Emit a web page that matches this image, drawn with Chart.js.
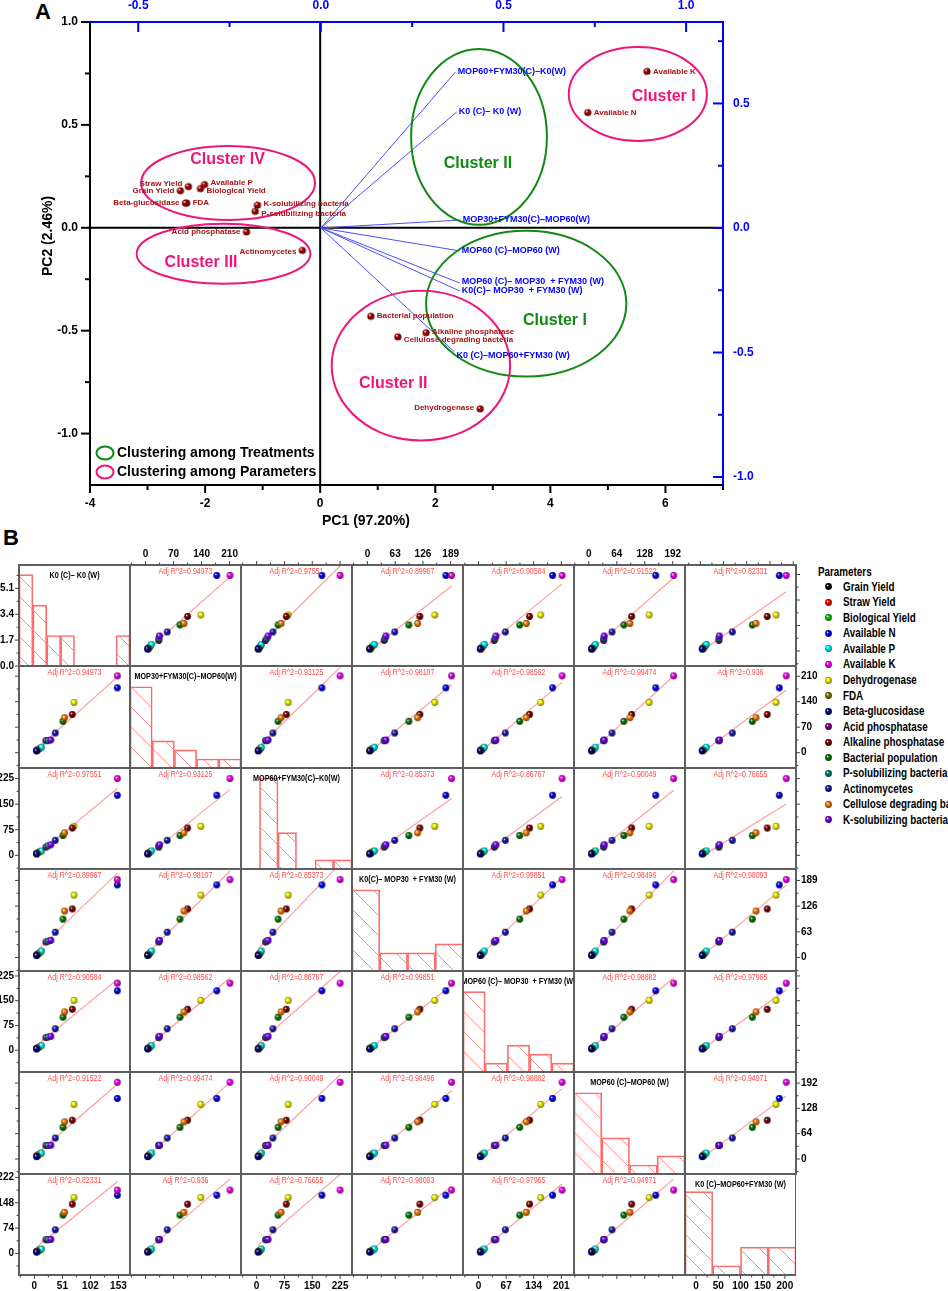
<!DOCTYPE html>
<html lang="en">
<head>
<meta charset="UTF-8">
<title>PCA biplot and scatter matrix</title>
<script src="https://cdn.jsdelivr.net/npm/chart.js@4.4.1/dist/chart.umd.min.js"></script>
<style>
  html, body { margin: 0; padding: 0; background: #fff; }
  body { position: relative; width: 948px; height: 1291px; overflow: hidden; }
  canvas { position: absolute; }
  .tag { position: absolute; font: bold 22px "Liberation Sans", Arial, sans-serif; line-height: 26px; }
  #legendB { position: absolute; left: 0; top: 0; font-family: "Liberation Sans", Arial, sans-serif;
             font-weight: bold; font-size: 12px; white-space: nowrap; }
  #legendB div { position: absolute; line-height: 14px; transform: scaleX(0.82); transform-origin: 0 50%; }
</style>
</head>
<body>
<div class="tag" style="left:35px;top:-1px">A</div>
<div class="tag" style="left:3px;top:525px">B</div>
<canvas id="biplot" width="948" height="540" style="left:0;top:0;width:948px;height:540px"></canvas>
<div id="legendB"></div>
<script>
// ---------- panel A : PCA biplot ----------
const paramNames = ['Grain Yield', 'Straw Yield', 'Biological Yield', 'Available N', 'Available P', 'Available K',
  'Dehydrogenase', 'FDA', 'Beta-glucosidase', 'Acid phosphatase', 'Alkaline phosphatase', 'Bacterial population',
  'P-solubilizing bacteria', 'Actinomycetes', 'Cellulose degrading bacteria', 'K-solubilizing bacteria'];
const pc1Scores = [-2.43, -2.29, -2.08, 4.65, -2.01, 5.68, 2.78, -2.32, -2.34, -1.28, 1.84, 0.88, -1.13, -0.31, 1.35, -1.09];
const pc2Scores = [0.18, 0.20, 0.19, 0.56, 0.21, 0.76, -0.88, 0.12, 0.12, -0.02, -0.51, -0.43, 0.08, -0.11, -0.53, 0.11];

const treatments = ['K0 (C)– K0 (W)', 'MOP30+FYM30(C)–MOP60(W)', 'MOP60+FYM30(C)–K0(W)', 'K0(C)– MOP30  + FYM30 (W)',
  'MOP60 (C)– MOP30  + FYM30 (W)', 'MOP60 (C)–MOP60 (W)', 'K0 (C)–MOP60+FYM30 (W)'];
const loadPC1 = [0.372, 0.383, 0.369, 0.380, 0.380, 0.380, 0.366];
const loadPC2 = [0.466, 0.032, 0.627, -0.253, -0.221, -0.092, -0.498];

// cluster ellipses, in PC1 / PC2 units
const clusterNames = ['Cluster II', 'Cluster I', 'Cluster I', 'Cluster IV', 'Cluster III', 'Cluster II'];
const clusterIsTreatment = [true, true, false, false, false, false];
const clusterPC1 = [2.76, 3.58, 5.52, -1.60, -1.68, 1.75];
const clusterPC2 = [0.442, -0.369, 0.650, 0.218, -0.126, -0.670];
const clusterHalfPC1 = [1.18, 1.74, 1.20, 1.51, 1.51, 1.55];
const clusterHalfPC2 = [0.427, 0.354, 0.228, 0.180, 0.146, 0.364];
const clusterTextPC1 = [2.74, 4.08, 5.97, -1.61, -2.07, 1.27];
const clusterTextPC2 = [0.311, -0.451, 0.636, 0.33, -0.17, -0.757];

const pc1Ticks = [-4, -2, 0, 2, 4, 6];
const pc2Ticks = [1.0, 0.5, 0.0, -0.5, -1.0];
const loadXTicks = [-0.5, 0.0, 0.5, 1.0];
const loadYTicks = [0.5, 0.0, -0.5, -1.0];

// ---------- panel B : scatter matrix (values per treatment, same order as treatments) ----------
const grainYield      = [4, 6, 5, 6, 5, 7, 5];
const strawYield      = [7, 9, 8, 9, 8, 10, 8];
const biologicalYield = [10, 12, 11, 12, 11, 13, 10];
const availableN      = [151, 178, 176, 178, 180, 153, 170];
const availableP      = [13, 15, 13, 16, 14, 15, 13];
const availableK      = [151, 211, 225, 191, 203, 194, 185];
const dehydrogenase   = [72, 138, 85, 153, 151, 138, 163];
const fda             = [5, 7, 6, 7, 6, 8, 6];
const betaGlucosidase = [4, 5, 4, 5, 4, 6, 4];
const acidPhosphatase = [21, 33, 24, 38, 38, 34, 40];
const alkalinePhos    = [69, 105, 80, 119, 124, 98, 144];
const bacterialPop    = [52, 86, 58, 94, 100, 80, 112];
const pSolubilizing   = [25, 33, 28, 40, 40, 34, 40];
const actinomycetes   = [38, 54, 44, 62, 65, 53, 69];
const celluloseDeg    = [55, 96, 66, 114, 116, 94, 120];
const kSolubilizing   = [30, 35, 31, 42, 42, 35, 41];
const paramValues = [grainYield, strawYield, biologicalYield, availableN, availableP, availableK, dehydrogenase, fda,
  betaGlucosidase, acidPhosphatase, alkalinePhos, bacterialPop, pSolubilizing, actinomycetes, celluloseDeg, kSolubilizing];
const paramColors = ['#000000', '#ff0000', '#00d000', '#0000ff', '#00ffff', '#ff00ff', '#ffff00', '#808000',
  '#000080', '#800080', '#800000', '#008000', '#008080', '#1a1ab8', '#ff8000', '#8000ff'];

const adjR2 = [
  [null, 0.94973, 0.97551, 0.89967, 0.90584, 0.91522, 0.82331],
  [0.94973, null, 0.93125, 0.98107, 0.98562, 0.99474, 0.936],
  [0.97551, 0.93125, null, 0.85373, 0.86767, 0.90049, 0.76655],
  [0.89967, 0.98107, 0.85373, null, 0.99851, 0.98496, 0.98093],
  [0.90584, 0.98562, 0.86767, 0.99851, null, 0.98882, 0.97965],
  [0.91522, 0.99474, 0.90049, 0.98496, 0.98882, null, 0.94971],
  [0.82331, 0.936, 0.76655, 0.98093, 0.97965, 0.94971, null]
];
const histCounts = [[6, 4, 2, 2, 0, 0, 0, 2], [9, 3, 2, 1, 1], [0, 10, 4, 0, 1, 1], [9, 2, 2, 3], [9, 1, 3, 2, 1], [9, 4, 1, 2], [9, 1, 3, 3]];
const histBinWidth = [1, 1, 1, 1, 1, 1, 50];
const histCountMax = [6.63, 11.3, 11.1, 11.3, 11.3, 11.3, 10.9];
const countTicks = [0, 1.7, 3.4, 5.1];
const colTicks = [[0, 51, 102, 153], [0, 70, 140, 210], [0, 75, 150, 225], [0, 63, 126, 189], [0, 67, 134, 201], [0, 64, 128, 192], [0, 50, 100, 150, 200]];
const rowTicks = [[0, 51, 102, 153], [0, 70, 140, 210], [0, 75, 150, 225], [0, 63, 126, 189], [0, 75, 150, 225], [0, 64, 128, 192], [0, 74, 148, 222]];
const colRange = [[-28, 174], [-39, 238.5], [-42, 257], [-35, 217], [-38, 232], [-34, 220], [-33, 206]];
const rowRange = [[-30, 172], [-42, 238], [-40, 256], [-33, 217], [-66, 240], [-38, 220], [-63, 232]];

// ---------- helpers ----------
const SANS = '"Liberation Sans", Arial, Helvetica, sans-serif';
Chart.defaults.font.family = SANS;
Chart.defaults.animation = false;
Chart.defaults.plugins.legend.display = false;
Chart.defaults.plugins.tooltip.enabled = false;

function shade(hex, f) {
  const n = parseInt(hex.slice(1), 16);
  return 'rgb(' + Math.round(((n >> 16) & 255) * f) + ',' + Math.round(((n >> 8) & 255) * f) + ',' + Math.round((n & 255) * f) + ')';
}
function ball(color, r) {
  const s = Math.ceil(2 * r) + 2, c = s / 2;
  const cv = document.createElement('canvas');
  cv.width = s; cv.height = s;
  const g = cv.getContext('2d');
  const grd = g.createRadialGradient(c - r * 0.35, c - r * 0.4, r * 0.05, c, c, r);
  grd.addColorStop(0, '#ffffff');
  grd.addColorStop(0.35, color);
  grd.addColorStop(1, shade(color, 0.45));
  g.fillStyle = grd;
  g.beginPath(); g.arc(c, c, r, 0, Math.PI * 2); g.fill();
  return cv;
}
function makeHatch() {
  const p = 20, t = document.createElement('canvas');
  t.width = p; t.height = p;
  const g = t.getContext('2d');
  g.strokeStyle = '#ff8c8c'; g.lineWidth = 1;
  g.beginPath(); g.moveTo(-1, -1); g.lineTo(p + 1, p + 1); g.stroke();
  return document.createElement('canvas').getContext('2d').createPattern(t, 'repeat');
}
function fixed(size) {
  return s => {
    if (s.isHorizontal()) s.height = size; else s.width = size;
    s.paddingLeft = s.paddingRight = s.paddingTop = s.paddingBottom = 0;
  };
}
function useTicks(vals) { return s => { s.ticks = vals.map(v => ({ value: v })); }; }
function minorsOf(t, range) {
  const s = t[1] - t[0], out = [];
  for (let v = t[0] - s / 2; v <= range[1]; v += s) if (v >= range[0]) out.push(v);
  return out;
}
// tick marks drawn at the plot edges through the chart's own scales
function tickMarks(specs) {
  return {
    id: 'tickMarks',
    afterDraw(chart) {
      const ctx = chart.ctx, a = chart.chartArea;
      specs.forEach(sp => {
        const sc = chart.scales[sp.scale];
        const sign = sp.inward ? -1 : 1;
        ctx.save();
        ctx.strokeStyle = sp.color; ctx.lineWidth = sp.lw;
        const one = (v, len) => {
          const p = sc.getPixelForValue(v);
          ctx.beginPath();
          if (sp.edge === 'left') { ctx.moveTo(a.left, p); ctx.lineTo(a.left - sign * len, p); }
          else if (sp.edge === 'right') { ctx.moveTo(a.right, p); ctx.lineTo(a.right + sign * len, p); }
          else if (sp.edge === 'top') { ctx.moveTo(p, a.top); ctx.lineTo(p, a.top - sign * len); }
          else { ctx.moveTo(p, a.bottom); ctx.lineTo(p, a.bottom + sign * len); }
          ctx.stroke();
        };
        sp.major.forEach(v => one(v, sp.len));
        sp.minor.forEach(v => one(v, sp.minorLen));
        ctx.restore();
      });
    }
  };
}
function label(ctx, str, x, y, font, color, align, squeeze) {
  ctx.save();
  ctx.font = font; ctx.fillStyle = color; ctx.textAlign = align || 'left'; ctx.textBaseline = 'middle';
  ctx.translate(x, y);
  if (squeeze) ctx.scale(squeeze, 1);
  ctx.fillText(str, 0, 0);
  ctx.restore();
}

// ---------- panel A ----------
const PINK = '#f0157a', GREEN = '#128a12', BLUE = '#0000ff', DOT_RED = '#a31515';
const paramSide = ['l', 'l', 'r', 'r', 'r', 'r', 'l', 'r', 'l', 'l', 'r', 'r', 'r', 'l', 'r', 'r'];
const paramDy = [0, -3, 2, 0, -2, 0, -1, 0, 0, 0, -1, 0, 2, 1, 3, -1];
const treatDy = [0, 0, 0, 0, -1, 0, 4];

const biplotDecor = {
  id: 'biplotDecor',
  beforeDatasetsDraw(chart) {
    const { ctx, chartArea: a, scales } = chart;
    const x0 = scales.x.getPixelForValue(0), y0 = scales.y.getPixelForValue(0);
    ctx.save();
    ctx.strokeStyle = '#000'; ctx.lineWidth = 2;
    ctx.beginPath();
    ctx.moveTo(x0, a.top); ctx.lineTo(x0, a.bottom);
    ctx.moveTo(a.left, y0); ctx.lineTo(a.right, y0);
    ctx.stroke();
    ctx.restore();
  },
  afterDatasetsDraw(chart) {
    const { ctx, scales } = chart;
    const sx = scales.x, sy = scales.y;
    ctx.save();
    clusterNames.forEach((name, i) => {
      const cx = sx.getPixelForValue(clusterPC1[i]), cy = sy.getPixelForValue(clusterPC2[i]);
      const rx = Math.abs(sx.getPixelForValue(clusterPC1[i] + clusterHalfPC1[i]) - cx);
      const ry = Math.abs(sy.getPixelForValue(clusterPC2[i] + clusterHalfPC2[i]) - cy);
      const col = clusterIsTreatment[i] ? GREEN : PINK;
      ctx.strokeStyle = col; ctx.lineWidth = 2;
      ctx.beginPath(); ctx.ellipse(cx, cy, rx, ry, 0, 0, Math.PI * 2); ctx.stroke();
      label(ctx, name, sx.getPixelForValue(clusterTextPC1[i]), sy.getPixelForValue(clusterTextPC2[i]),
        'bold 16px ' + SANS, col, 'center');
    });
    paramNames.forEach((name, i) => {
      const px = sx.getPixelForValue(pc1Scores[i]), py = sy.getPixelForValue(pc2Scores[i]) + paramDy[i];
      if (paramSide[i] === 'r') label(ctx, name, px + 6, py, 'bold 8px ' + SANS, DOT_RED, 'left');
      else label(ctx, name, px - 6, py, 'bold 8px ' + SANS, DOT_RED, 'right');
    });
    treatments.forEach((name, i) => {
      const px = scales.x2.getPixelForValue(loadPC1[i]), py = scales.y2.getPixelForValue(loadPC2[i]);
      label(ctx, name, px + 2, py + treatDy[i], 'bold 9px ' + SANS, BLUE, 'left');
    });
    ctx.restore();
  },
  afterDraw(chart) {
    const { ctx, chartArea: a } = chart;
    ctx.save();
    ctx.lineWidth = 2;
    ctx.strokeStyle = '#000';
    ctx.beginPath(); ctx.moveTo(a.left, a.top); ctx.lineTo(a.left, a.bottom); ctx.lineTo(a.right, a.bottom); ctx.stroke();
    ctx.strokeStyle = BLUE;
    ctx.beginPath(); ctx.moveTo(a.left, a.top); ctx.lineTo(a.right, a.top); ctx.lineTo(a.right, a.bottom); ctx.stroke();
    label(ctx, 'PC1 (97.20%)', 366, 521, 'bold 14px ' + SANS, '#000', 'center');
    ctx.save();
    ctx.translate(48, 236); ctx.rotate(-Math.PI / 2);
    label(ctx, 'PC2 (2.46%)', 0, 0, 'bold 14px ' + SANS, '#000', 'center');
    ctx.restore();
    // legend of the two ellipse kinds
    [['Clustering among Treatments', GREEN], ['Clustering among Parameters', PINK]].forEach((it, k) => {
      const y = a.bottom - 32 + k * 19;
      ctx.strokeStyle = it[1]; ctx.lineWidth = 2;
      ctx.beginPath(); ctx.ellipse(a.left + 15, y, 8.5, 6.5, 0, 0, Math.PI * 2); ctx.stroke();
      label(ctx, it[0], a.left + 27, y, 'bold 14px ' + SANS, '#000', 'left');
    });
    ctx.restore();
  }
};

function axisA(pos, min, max, ticks, color, pad, size, fmt) {
  return {
    type: 'linear', axis: (pos === 'top' || pos === 'bottom') ? 'x' : 'y', position: pos, min: min, max: max,
    grid: { display: false, drawTicks: false }, border: { display: false },
    ticks: { font: { size: 12, weight: 'bold' }, color: color, padding: pad, maxRotation: 0, autoSkip: false, callback: fmt },
    afterBuildTicks: useTicks(ticks), afterFit: fixed(size)
  };
}
const oneDec = v => Number(v).toFixed(1);

new Chart(document.getElementById('biplot'), {
  type: 'scatter',
  data: {
    datasets: treatments.map((t, i) => ({
      type: 'line', data: [{ x: 0, y: 0 }, { x: loadPC1[i], y: loadPC2[i] }], xAxisID: 'x2', yAxisID: 'y2',
      borderColor: '#4d4dff', borderWidth: 1, pointRadius: 0, order: 2
    })).concat([{
      type: 'scatter', data: pc1Scores.map((v, i) => ({ x: v, y: pc2Scores[i] })), xAxisID: 'x', yAxisID: 'y',
      pointStyle: ball('#b00000', 3.6), pointRadius: 4, order: 1
    }])
  },
  options: {
    responsive: false,
    layout: { padding: 0, autoPadding: false },
    scales: {
      x: axisA('bottom', -4, 7, pc1Ticks, '#000', 11, 540 - 485, v => String(v)),
      y: axisA('left', -1.25, 1.0, pc2Ticks, '#000', 12, 90, oneDec),
      x2: axisA('top', -0.632, 1.101, loadXTicks, BLUE, 9, 22, oneDec),
      y2: axisA('right', -1.032, 0.827, loadYTicks, BLUE, 10, 948 - 723, oneDec)
    }
  },
  plugins: [biplotDecor, tickMarks([
    { scale: 'x', edge: 'bottom', major: pc1Ticks, minor: [-3, -1, 1, 3, 5, 7], len: 8, minorLen: 5, color: '#000', lw: 2 },
    { scale: 'y', edge: 'left', major: pc2Ticks, minor: [0.75, 0.25, -0.25, -0.75], len: 9, minorLen: 5, color: '#000', lw: 2 },
    { scale: 'x2', edge: 'top', major: loadXTicks, minor: [-0.25, 0.25, 0.75], len: 10, minorLen: 5, color: BLUE, lw: 2, inward: true },
    { scale: 'y2', edge: 'right', major: loadYTicks, minor: [0.75, 0.25, -0.25, -0.75], len: 10, minorLen: 5, color: BLUE, lw: 2, inward: true }
  ])]
});

// ---------- panel B ----------
const B_LEFT = 19, B_TOP = 564.5, CELL_W = 111, CELL_H = 101.5;
const PAD_L = 19, PAD_R = 34, PAD_T = 20, PAD_B = 16, SPILL = 8;
const hatch = makeHatch();
const balls = paramColors.map(c => ball(c, 3.4));

function edgeAxis(pos, range, ticks, labelled, size, fmt) {
  return {
    type: 'linear', axis: (pos === 'top' || pos === 'bottom') ? 'x' : 'y', position: pos, min: range[0], max: range[1],
    grid: { display: false, drawTicks: false }, border: { display: false },
    ticks: { display: labelled, font: { size: 10, weight: 'bold' }, color: '#000', padding: 5,
             maxRotation: 0, autoSkip: false, callback: fmt || (v => String(v)) },
    afterBuildTicks: useTicks(ticks), afterFit: fixed(size)
  };
}
function fitEnds(xs, ys) {
  const n = xs.length;
  const mx = xs.reduce((s, v) => s + v, 0) / n, my = ys.reduce((s, v) => s + v, 0) / n;
  let sxy = 0, sxx = 0;
  xs.forEach((x, i) => { sxy += (x - mx) * (ys[i] - my); sxx += (x - mx) * (x - mx); });
  const b = sxy / sxx, a0 = my - b * mx, lo = Math.min(...xs), hi = Math.max(...xs);
  return [{ x: lo, y: a0 + b * lo }, { x: hi, y: a0 + b * hi }];
}
function cellDecor(r, c) {
  return {
    id: 'cellDecor',
    beforeDatasetsDraw(chart) {
      if (r === c) return;
      const a = chart.chartArea;
      label(chart.ctx, 'Adj R^2=' + adjR2[r][c], (a.left + a.right) / 2, a.top + 7, '9px ' + SANS, '#ff4a4a', 'center', 0.78);
    },
    afterDatasetsDraw(chart) {
      if (r !== c) return;
      const { ctx, chartArea: a } = chart;
      ctx.save();
      ctx.beginPath(); ctx.rect(a.left, a.top, a.right - a.left, a.bottom - a.top); ctx.clip();
      label(ctx, treatments[r], (a.left + a.right) / 2, a.top + 10, 'bold 9.5px ' + SANS, '#000', 'center', 0.76);
      ctx.restore();
    },
    afterDraw(chart) {
      const { ctx, chartArea: a } = chart;
      ctx.save();
      ctx.strokeStyle = '#5f5f5f'; ctx.lineWidth = 2;
      ctx.strokeRect(a.left, a.top, a.right - a.left, a.bottom - a.top);
      ctx.restore();
    }
  };
}

function makeCell(r, c) {
  const x0 = Math.round(B_LEFT + c * CELL_W), x1 = Math.round(B_LEFT + (c + 1) * CELL_W);
  const y0 = Math.round(B_TOP + r * CELL_H), y1 = Math.round(B_TOP + (r + 1) * CELL_H);
  const diag = r === c;
  const hasTop = r === 0 && c !== 0, hasBottom = r === 6, hasLeft = c === 0, hasRight = c === 6 && r !== 6;
  // side axes need room above and below the cell so the end labels are not cut
  const spillT = (hasLeft || hasRight) && !hasTop ? SPILL : 0;
  const spillB = (hasLeft || hasRight) && !hasBottom ? SPILL : 0;
  const pl = hasLeft ? PAD_L : 0, pr = hasRight ? PAD_R : 0;
  const pt = (hasTop ? PAD_T : 0) + spillT, pb = (hasBottom ? PAD_B : 0) + spillB;
  const W = x1 - x0 + pl + pr, H = y1 - y0 + pt + pb;
  const cv = document.createElement('canvas');
  cv.width = W; cv.height = H;
  Object.assign(cv.style, { left: (x0 - pl) + 'px', top: (y0 - pt) + 'px', width: W + 'px', height: H + 'px' });
  document.body.appendChild(cv);

  const xr = diag ? [0, histCounts[c].length * histBinWidth[c]] : colRange[c];
  const yr = diag ? [0, histCountMax[r]] : rowRange[r];
  const scales = {
    x: { type: 'linear', display: false, min: xr[0], max: xr[1], offset: false },
    y: { type: 'linear', display: false, min: yr[0], max: yr[1] }
  };
  const marks = [];
  const addEdge = (id, pos, range, ticks, labelled, size, fmt) => {
    scales[id] = edgeAxis(pos, range, ticks, labelled, size, fmt);
    marks.push({ scale: id, edge: pos, major: ticks, minor: minorsOf(ticks, range), len: 4, minorLen: 2.5, color: '#444', lw: 1 });
  };
  if (hasTop) addEdge('et', 'top', colRange[c], colTicks[c], c % 2 === 1, PAD_T);
  if (hasBottom) addEdge('eb', 'bottom', diag ? xr : colRange[c], colTicks[c], c % 2 === 0, PAD_B);
  if (hasLeft) addEdge('el', 'left', diag ? yr : rowRange[r], diag ? countTicks : rowTicks[r], r % 2 === 0, PAD_L, diag ? oneDec : null);
  if (hasRight) addEdge('er', 'right', rowRange[r], rowTicks[r], r % 2 === 1, PAD_R);

  let type, datasets;
  if (diag) {
    const w = histBinWidth[c];
    type = 'bar';
    datasets = [{
      data: histCounts[c].map((n, k) => ({ x: (k + 0.5) * w, y: n })), xAxisID: 'x', yAxisID: 'y',
      backgroundColor: hatch, borderColor: '#ff6a6a', borderWidth: 1, barPercentage: 1, categoryPercentage: 1
    }];
  } else {
    const xs = paramValues.map(p => p[c]), ys = paramValues.map(p => p[r]);
    type = 'scatter';
    datasets = [
      { type: 'line', data: fitEnds(xs, ys), xAxisID: 'x', yAxisID: 'y', borderColor: '#ff9e9e', borderWidth: 1.2,
        pointRadius: 0, order: 2, clip: 0 },
      { type: 'scatter', data: xs.map((x, i) => ({ x: x, y: ys[i] })), xAxisID: 'x', yAxisID: 'y',
        pointStyle: balls, pointRadius: 3.4, order: 1, clip: 0 }
    ];
  }
  new Chart(cv, {
    type: type,
    data: { datasets: datasets },
    options: {
      responsive: false,
      layout: { padding: { top: spillT, bottom: spillB, left: 0, right: 0 }, autoPadding: false },
      scales: scales
    },
    plugins: [cellDecor(r, c), tickMarks(marks)]
  });
}
for (let r = 0; r < 7; r++) for (let c = 0; c < 7; c++) makeCell(r, c);

// legend of panel B
const legendB = document.getElementById('legendB');
const title = document.createElement('div');
title.textContent = 'Parameters';
Object.assign(title.style, { left: '818px', top: '565px' });
legendB.appendChild(title);
paramNames.forEach((name, i) => {
  const y = 586.7 + i * 15.55;
  const b = ball(paramColors[i], 3.4);
  Object.assign(b.style, { left: (828 - b.width / 2) + 'px', top: (y - b.height / 2) + 'px' });
  legendB.appendChild(b);
  const t = document.createElement('div');
  t.textContent = name;
  Object.assign(t.style, { left: '843px', top: (y - 7) + 'px' });
  legendB.appendChild(t);
});
</script>
</body>
</html>
